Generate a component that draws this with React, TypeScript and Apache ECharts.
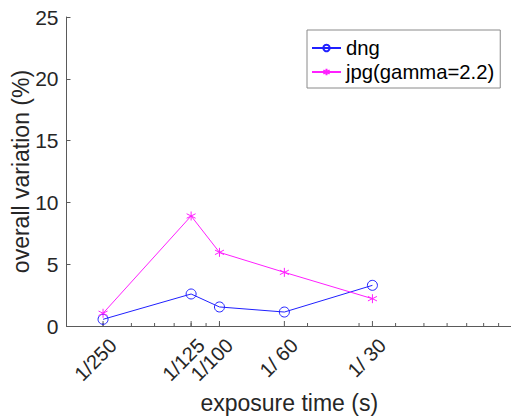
import React, { useEffect, useRef } from "react";
import * as echarts from "echarts";

const exposureLabels = ["1/250", "1/125", "1/100", "1/ 60", "1/ 30"];
const exposureValues = [1 / 250, 1 / 125, 1 / 100, 1 / 60, 1 / 30];
const dngValues = [0.54, 2.59, 1.54, 1.13, 3.29];
const jpgValues = [1.03, 8.9, 5.96, 4.34, 2.21];
const minorTicks = [0.003, 0.004, 0.005, 0.006, 0.007, 0.008, 0.009, 0.01, 0.02, 0.03, 0.04, 0.05, 0.06, 0.07, 0.08, 0.09, 0.1];

const FONT = "'Liberation Sans', Arial, sans-serif";
const AXIS = "#5a5a5a";
const TEXT = "#262626";
const NAMEFS = 23;
const TICKFS = 21;
const XTICKFS = 20;
const LEGFS = 20.3;

export default function App() {
  const ref = useRef<HTMLDivElement>(null);
  useEffect(() => {
    if (!ref.current) return;
    const chart = echarts.init(ref.current, null, { renderer: "svg" });
    const star = "path://M0,-1L0,1M-0.87,-0.5L0.87,0.5M-0.87,0.5L0.87,-0.5";
    chart.setOption({
      animation: false,
      backgroundColor: "#ffffff",
      textStyle: { fontFamily: FONT },
      grid: { left: 66.5, right: -1, top: 17, bottom: 92, containLabel: false, outerBoundsMode: "none" },
      legend: {
        data: [{ name: "dng" }, { name: "jpg(gamma=2.2)" }],
        orient: "vertical",
        left: 307,
        top: 30,
        itemWidth: 29,
        itemHeight: 8,
        itemGap: 4,
        padding: [8, 6, 6, 4],
        borderColor: "#8a8a8a",
        borderWidth: 1,
        backgroundColor: "#ffffff",
        textStyle: { fontSize: LEGFS, color: "#000000", fontFamily: FONT },
      },
      xAxis: {
        type: "log",
        logBase: 10,
        min: 0.003,
        max: 0.1,
        name: "exposure time (s)",
        nameLocation: "middle",
        nameGap: 65,
        nameMoveOverlap: false,
        nameTextStyle: { fontSize: NAMEFS, color: TEXT, fontFamily: FONT },
        axisLine: { show: true, lineStyle: { color: AXIS, width: 1 } },
        axisTick: { show: false },
        axisLabel: { show: false },
        splitLine: { show: false },
        minorTick: { show: false },
      },
      yAxis: {
        type: "value",
        min: 0,
        max: 25,
        interval: 5,
        name: "overall variation (%)",
        nameLocation: "middle",
        nameGap: 34,
        nameMoveOverlap: false,
        nameTextStyle: { fontSize: NAMEFS, color: TEXT, fontFamily: FONT },
        axisLine: { show: true, lineStyle: { color: AXIS, width: 1 } },
        axisTick: { show: true, inside: true, length: 4, lineStyle: { color: AXIS } },
        axisLabel: { fontSize: TICKFS, color: TEXT, margin: 8, fontFamily: FONT },
        splitLine: { show: false },
      },
      series: [
        {
          name: "ticks",
          type: "custom",
          data: minorTicks.map((v) => [v, 0]),
          silent: true,
          renderItem: (params: any, api: any) => {
            const p = api.coord([api.value(0), 0]);
            return {
              type: "line",
              shape: { x1: p[0], y1: p[1], x2: p[0], y2: p[1] - 3 },
              style: { stroke: AXIS, lineWidth: 1 },
            };
          },
        },
        {
          name: "majorTicks",
          type: "custom",
          data: exposureValues.map((v) => [v, 0]),
          silent: true,
          renderItem: (params: any, api: any) => {
            const p = api.coord([api.value(0), 0]);
            const label = exposureLabels[params.dataIndex];
            return {
              type: "group",
              children: [
                {
                  type: "line",
                  shape: { x1: p[0], y1: p[1], x2: p[0], y2: p[1] - 5 },
                  style: { stroke: AXIS, lineWidth: 1 },
                },
                {
                  type: "text",
                  x: p[0] + 10,
                  y: p[1] + 16,
                  rotation: Math.PI / 4,
                  style: {
                    text: label,
                    align: "right",
                    verticalAlign: "middle",
                    fontSize: XTICKFS,
                    fontFamily: FONT,
                    fill: TEXT,
                  },
                },
              ],
            };
          },
        },
        {
          name: "dng",
          type: "line",
          data: exposureValues.map((v, i) => [v, dngValues[i]]),
          symbol: "circle",
          symbolSize: 10,
          showAllSymbol: true,
          lineStyle: { color: "#2020ff", width: 1 },
          itemStyle: { color: "rgba(255,255,255,0)", borderColor: "#2020ff", borderWidth: 1 },
          z: 3,
        },
        {
          name: "jpg(gamma=2.2)",
          type: "line",
          data: exposureValues.map((v, i) => [v, jpgValues[i]]),
          symbol: star,
          symbolSize: 9,
          showAllSymbol: true,
          lineStyle: { color: "#ff20ff", width: 1 },
          itemStyle: { color: "#ff20ff", borderColor: "#ff20ff", borderWidth: 1 },
          z: 3,
        },
      ],
    });
    return () => chart.dispose();
  }, []);
  return <div ref={ref} style={{ width: 511, height: 418, position: "absolute", left: 0, top: 0 }} />;
}
